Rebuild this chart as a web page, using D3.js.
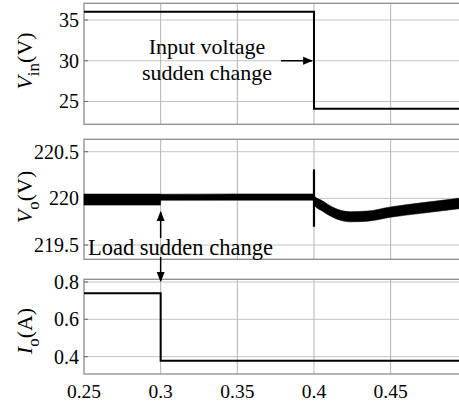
<!DOCTYPE html>
<html>
<head>
  <script src="https://d3js.org/d3.v7.min.js"></script>
  <style>
    body { margin: 0; background: #fff; }
  </style>
</head>
<body>
  <svg id="chart" width="459" height="406"></svg>
  <script>
    // time axis
    const timeTicks = [0.25, 0.3, 0.35, 0.4, 0.45];
    const timeLabels = ["0.25", "0.3", "0.35", "0.4", "0.45"];

    // input voltage step (V)
    const vinTime = [0.25, 0.4, 0.4, 0.5];
    const vinValue = [36, 36, 24.1, 24.1];
    const vinTicks = [25, 30, 35];

    // output voltage ripple band (centre and half width, V)
    const voTime = [0.25, 0.2999, 0.3, 0.35, 0.3995, 0.4003, 0.4056, 0.412, 0.4235, 0.435, 0.45, 0.47, 0.497];
    const voMid = [219.987, 219.987, 220.012, 220.014, 220.014, 219.975, 219.918, 219.853, 219.803, 219.81, 219.853, 219.896, 219.95];
    const voHalf = [0.059, 0.059, 0.032, 0.033, 0.033, 0.05, 0.055, 0.054, 0.054, 0.054, 0.055, 0.056, 0.056];
    const voSpike = { t: 0.4, lo: 219.696, hi: 220.31 };
    const voTicks = [219.5, 220, 220.5];
    const voTickLabels = ["219.5", "220", "220.5"];

    // output current step (A)
    const ioTime = [0.25, 0.3, 0.3, 0.5];
    const ioValue = [0.74, 0.74, 0.378, 0.378];
    const ioTicks = [0.4, 0.6, 0.8];
    const ioTickLabels = ["0.4", "0.6", "0.8"];

    const serif = "'Liberation Serif', serif";

    const svg = d3.select("#chart");

    const defs = svg.append("defs");
    defs.append("marker")
      .attr("id", "arrow")
      .attr("viewBox", "0 0 10 10")
      .attr("refX", 9).attr("refY", 5)
      .attr("markerWidth", 10).attr("markerHeight", 10)
      .attr("markerUnits", "userSpaceOnUse")
      .attr("orient", "auto-start-reverse")
      .append("path")
      .attr("d", "M0,1 L10,5 L0,9 Z")
      .attr("fill", "#000");

    const x = d3.scaleLinear().domain([0.25, 0.5]).range([84, 467.3]);

    const panels = [
      { top: 3.3, bottom: 124.3, domain: [22.2, 37.05], ticks: vinTicks, labels: ["25", "30", "35"], sub: "in", unit: "(V)", main: "V", cy: 61 },
      { top: 139.3, bottom: 259.3, domain: [219.347, 220.633], ticks: voTicks, labels: voTickLabels, sub: "o", unit: "(V)", main: "V", cy: 197 },
      { top: 279.3, bottom: 374, domain: [0.307, 0.8145], ticks: ioTicks, labels: ioTickLabels, sub: "o", unit: "(A)", main: "I", cy: 331 }
    ];

    panels.forEach(function(p) {
      p.y = d3.scaleLinear().domain(p.domain).range([p.bottom, p.top]);
      const g = svg.append("g");

      // background grid
      g.selectAll(".hgrid").data(p.ticks).join("line")
        .attr("x1", x.range()[0]).attr("x2", 470)
        .attr("y1", d => p.y(d)).attr("y2", d => p.y(d))
        .attr("stroke", "#c4c4c4").attr("stroke-width", 1);
      g.selectAll(".vgrid").data(timeTicks.slice(1)).join("line")
        .attr("x1", d => x(d)).attr("x2", d => x(d))
        .attr("y1", p.top).attr("y2", p.bottom)
        .attr("stroke", "#b4b4b4").attr("stroke-width", 1);

      // frame
      g.append("rect")
        .attr("x", x.range()[0]).attr("y", p.top)
        .attr("width", 470 - x.range()[0]).attr("height", p.bottom - p.top)
        .attr("fill", "none").attr("stroke", "#8c8c8c").attr("stroke-width", 1.3);

      // y ticks
      g.selectAll(".ytick").data(p.ticks).join("line")
        .attr("x1", x.range()[0]).attr("x2", x.range()[0] + 4)
        .attr("y1", d => p.y(d)).attr("y2", d => p.y(d))
        .attr("stroke", "#666");
      g.selectAll(".ylab").data(p.ticks).join("text")
        .attr("x", 79).attr("y", d => p.y(d) + 7)
        .attr("text-anchor", "end")
        .style("font-family", serif)
        .style("font-size", "20px")
        .text((d, i) => p.labels[i]);

      // y axis title
      const t = g.append("text")
        .attr("transform", "translate(32," + p.cy + ") rotate(-90)")
        .attr("text-anchor", "middle")
        .style("font-family", serif)
        .style("font-size", "22px");
      t.append("tspan").style("font-style", "italic").text(p.main);
      t.append("tspan").style("font-size", "17px").attr("dy", 7).text(p.sub);
      t.append("tspan").attr("dy", -7).text(p.unit);
    });

    // bottom x labels
    svg.append("g").selectAll("text").data(timeTicks).join("text")
      .attr("x", d => x(d)).attr("y", 398)
      .attr("text-anchor", "middle")
      .style("font-family", serif)
      .style("font-size", "19.5px")
      .text((d, i) => timeLabels[i]);

    // Vin trace
    const vinLine = d3.line().x(d => x(d[0])).y(d => panels[0].y(d[1]));
    svg.append("path")
      .datum(vinTime.map((t, i) => [t, vinValue[i]]))
      .attr("d", vinLine)
      .attr("fill", "none").attr("stroke", "#000").attr("stroke-width", 2);

    // Vo ripple band
    const voArea = d3.area()
      .x(d => x(d.t))
      .y0(d => panels[1].y(d.m - d.h))
      .y1(d => panels[1].y(d.m + d.h))
      .curve(d3.curveMonotoneX);
    const voData = voTime.map((t, i) => ({ t: t, m: voMid[i], h: voHalf[i] }));
    svg.append("path")
      .datum(voData)
      .attr("d", voArea)
      .attr("fill", "#000").attr("stroke", "#000").attr("stroke-width", 0.6);
    svg.append("line")
      .attr("x1", x(voSpike.t)).attr("x2", x(voSpike.t))
      .attr("y1", panels[1].y(voSpike.hi)).attr("y2", panels[1].y(voSpike.lo))
      .attr("stroke", "#000").attr("stroke-width", 2.2);

    // Io trace
    const ioLine = d3.line().x(d => x(d[0])).y(d => panels[2].y(d[1]));
    svg.append("path")
      .datum(ioTime.map((t, i) => [t, ioValue[i]]))
      .attr("d", ioLine)
      .attr("fill", "none").attr("stroke", "#000").attr("stroke-width", 2);

    // annotations
    const ann = svg.append("g");
    function note(txt, xp, yp, anchor, size) {
      ann.append("text").attr("x", xp).attr("y", yp)
        .attr("text-anchor", anchor)
        .style("font-family", serif)
        .style("font-size", size + "px")
        .text(txt);
    }
    note("Input voltage", 207, 54, "middle", 22);
    note("sudden change", 207, 80, "middle", 22);
    ann.append("line")
      .attr("x1", x(0.3785)).attr("x2", x(0.3988))
      .attr("y1", panels[0].y(30)).attr("y2", panels[0].y(30))
      .attr("stroke", "#000").attr("stroke-width", 1.5)
      .attr("marker-end", "url(#arrow)");

    note("Load sudden change", 88, 255, "start", 22.5);
    ann.append("line")
      .attr("x1", x(0.3)).attr("x2", x(0.3))
      .attr("y1", 238).attr("y2", 212)
      .attr("stroke", "#000").attr("stroke-width", 1.5)
      .attr("marker-end", "url(#arrow)");
    ann.append("line")
      .attr("x1", x(0.3)).attr("x2", x(0.3))
      .attr("y1", 257).attr("y2", 281)
      .attr("stroke", "#000").attr("stroke-width", 1.5)
      .attr("marker-end", "url(#arrow)");
  </script>
</body>
</html>
